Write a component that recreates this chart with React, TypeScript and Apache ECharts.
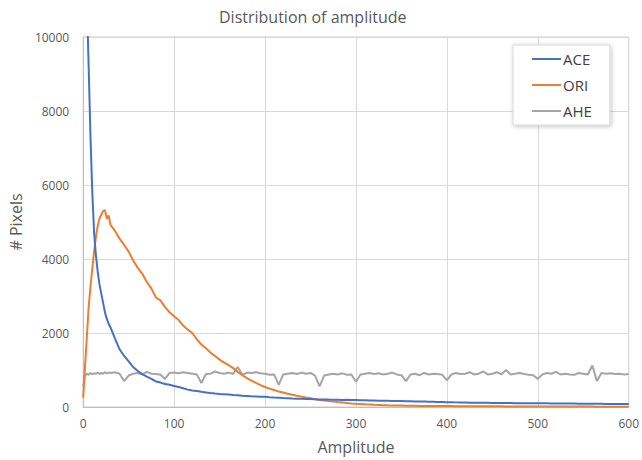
import React, { useEffect, useRef } from "react";
import * as echarts from "echarts";

const amplitude = [
  0, 2, 4, 6, 8, 10, 12, 14, 16, 18, 20, 22, 24, 26, 28, 30,
  35, 40, 45, 50, 55, 60, 65, 70, 75, 80, 85, 90, 95, 100,
  105, 110, 115, 120, 125, 130, 135, 140, 145, 150, 155, 160, 165, 170, 175, 180, 185, 190, 195, 200,
  205, 210, 215, 220, 225, 230, 235, 240, 245, 250, 255, 260, 265, 270, 275, 280, 285, 290, 295, 300,
  305, 310, 315, 320, 325, 330, 335, 340, 345, 350, 355, 360, 365, 370, 375, 380, 385, 390, 395, 400,
  405, 410, 415, 420, 425, 430, 435, 440, 445, 450, 455, 460, 465, 470, 475, 480, 485, 490, 495, 500,
  505, 510, 515, 520, 525, 530, 535, 540, 545, 550, 555, 560, 565, 570, 575, 580, 585, 590, 595, 600,
];

const ace = [
  16000, 13000, 11000, 9200, 7300, 5800, 4700, 4100, 3650, 3300, 3050, 2800, 2550, 2380, 2250, 2150,
  1850, 1560, 1380, 1230, 1080, 970, 890, 820, 760, 690, 660, 620, 600, 570,
  540, 505, 470, 445, 430, 410, 395, 378, 362, 352, 345, 335, 322, 315, 306, 300, 292, 285, 276, 280,
  266, 256, 250, 242, 236, 230, 226, 222, 216, 215, 210, 205, 204, 200, 198, 196, 192, 194, 190, 188,
  184, 182, 178, 176, 172, 170, 168, 165, 162, 160, 156, 154, 150, 148, 146, 142, 140, 136, 132, 128,
  127, 125, 122, 120, 118, 116, 114, 113, 112, 110, 109, 108, 106, 105, 104, 103, 102, 101, 100, 100,
  99, 98, 97, 96, 95, 94, 93, 92, 91, 90, 89, 88, 86, 85, 84, 83, 82, 81, 80, 80,
];

const ori = [
  250, 1100, 1900, 2700, 3250, 3750, 4200, 4600, 4900, 5100, 5200, 5300, 5320, 5080, 5180, 4920,
  4760, 4550, 4380, 4200, 3960, 3760, 3600, 3380, 3200, 2960, 2880, 2700, 2560, 2450,
  2350, 2200, 2090, 2000, 1830, 1690, 1590, 1470, 1380, 1280, 1200, 1130, 1050, 950, 860, 780, 715, 650, 590, 540,
  495, 460, 420, 390, 360, 330, 302, 280, 256, 235, 212, 192, 176, 160, 146, 132, 120, 108, 97, 88,
  80, 72, 66, 60, 55, 50, 46, 43, 40, 38, 36, 34, 32, 30, 29, 28, 27, 26, 25, 25,
  24, 23, 22, 21, 20, 20, 19, 19, 18, 18, 17, 17, 16, 16, 15, 15, 15, 14, 14, 14,
  13, 13, 13, 12, 12, 12, 12, 11, 11, 11, 11, 11, 10, 10, 10, 10, 10, 10, 10, 10,
];

const ahe = [
  550, 850, 900, 870, 920, 880, 910, 900, 930, 890, 920, 900, 940, 910, 930, 920,
  940, 900, 700, 850, 900, 920, 880, 950, 900, 890, 870, 760, 920, 930,
  910, 940, 920, 900, 880, 650, 890, 900, 960, 920, 900, 930, 890, 1080, 870, 930, 920, 940, 910, 900,
  870, 880, 600, 880, 900, 920, 890, 930, 900, 920, 850, 560, 850, 880, 900, 880, 910, 870, 880, 680,
  880, 900, 920, 890, 910, 880, 900, 930, 880, 860, 700, 880, 900, 860, 920, 880, 900, 890, 870, 720,
  880, 920, 890, 900, 940, 880, 900, 960, 880, 900, 940, 880, 1000, 880, 900, 920, 890, 870, 860, 760,
  880, 920, 900, 950, 880, 900, 880, 870, 920, 900, 880, 1120, 700, 920, 900, 910, 890, 900, 880, 890,
];

const seriesNames = ["ACE", "ORI", "AHE"];
const seriesValues = [ace, ori, ahe];
const colors = ["#4472C4", "#ED7D31", "#A5A5A5"];
const xTicks = { min: 0, max: 600, interval: 100 };
const yTicks = { min: 0, max: 10000, interval: 2000 };

const FONT = "'Open Sans', 'Noto Sans', sans-serif";

export default function App() {
  const ref = useRef<HTMLDivElement>(null);
  useEffect(() => {
    if (!ref.current) return;
    const chart = echarts.init(ref.current, undefined, { renderer: "svg" });
    chart.setOption({
      animation: false,
      backgroundColor: "#ffffff",
      title: {
        text: "Distribution of amplitude",
        left: 214,
        top: 4,
        textStyle: { fontFamily: FONT, fontSize: 16, fontWeight: "normal", color: "#595959" },
      },
      legend: {
        orient: "vertical",
        left: 513,
        top: 45,
        padding: [6, 18, 6, 19],
        itemGap: 10,
        itemWidth: 29,
        itemHeight: 2,
        icon: "rect",
        backgroundColor: "#ffffff",
        borderColor: "#d9d9d9",
        borderWidth: 1,
        shadowColor: "rgba(0,0,0,0.25)",
        shadowBlur: 4,
        shadowOffsetX: 1,
        shadowOffsetY: 1,
        itemStyle: { borderWidth: 0 },
        textStyle: { fontFamily: FONT, fontSize: 15, color: "#404040", lineHeight: 16, padding: [0, 0, 0, -3] },
        data: seriesNames,
      },
      grid: {
        left: 82,
        right: 10,
        top: 37,
        bottom: 53,
        show: true,
        borderColor: "#c8c8c8",
        borderWidth: 1,
        containLabel: false,
      },
      xAxis: {
        type: "value",
        ...xTicks,
        name: "Amplitude",
        nameLocation: "middle",
        nameGap: 32,
        nameTextStyle: { fontFamily: FONT, fontSize: 16, color: "#595959" },
        axisLine: { show: true, lineStyle: { color: "#bfbfbf" } },
        axisTick: { show: false },
        axisLabel: { fontFamily: FONT, fontSize: 12, color: "#595959", margin: 10, formatter: (v: number) => String(v) },
        splitLine: { show: true, lineStyle: { color: "#d9d9d9" } },
      },
      yAxis: {
        type: "value",
        ...yTicks,
        name: "# Pixels",
        nameLocation: "middle",
        nameGap: 59,
        nameTextStyle: { fontFamily: FONT, fontSize: 16, color: "#595959" },
        axisLine: { show: true, lineStyle: { color: "#bfbfbf" } },
        axisTick: { show: false },
        axisLabel: { fontFamily: FONT, fontSize: 12, color: "#595959", margin: 14, formatter: (v: number) => String(v) },
        splitLine: { show: true, lineStyle: { color: "#d9d9d9" } },
      },
      series: seriesNames.map((name, i) => ({
        name,
        type: "line",
        data: amplitude.map((x, j) => [x, seriesValues[i][j]]),
        showSymbol: false,
        symbol: "none",
        clip: true,
        lineStyle: { color: colors[i], width: 2 },
        itemStyle: { color: colors[i] },
        z: 3 - i,
      })),
    });
    return () => chart.dispose();
  }, []);
  return <div ref={ref} style={{ position: "absolute", left: 0, top: 0, width: 642, height: 460 }} />;
}
